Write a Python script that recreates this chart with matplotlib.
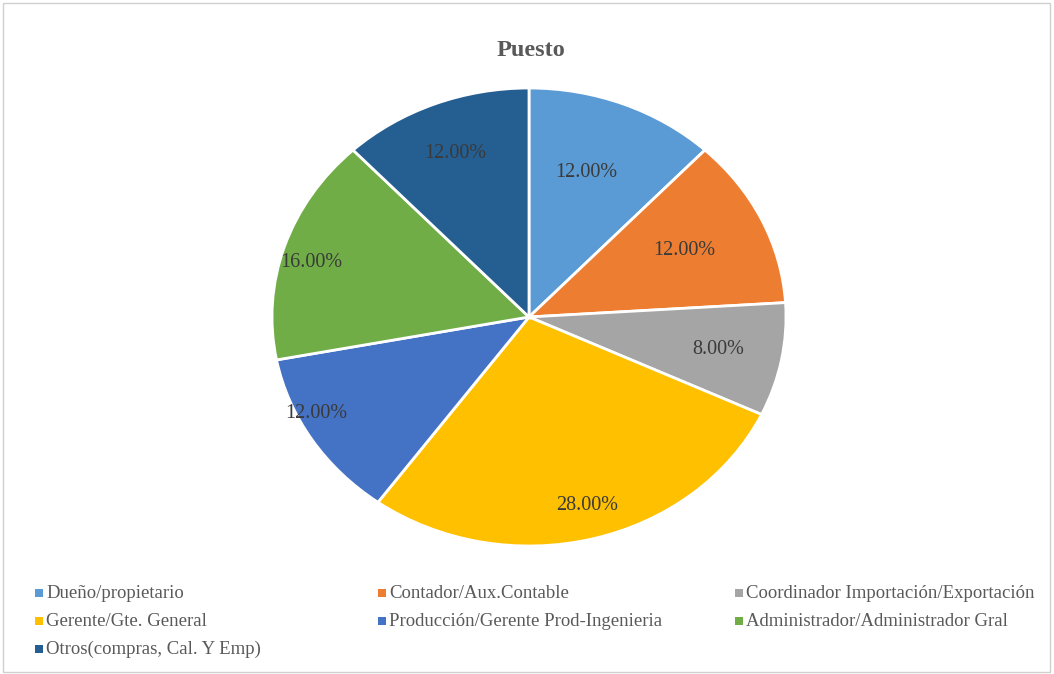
import numpy as np
import matplotlib
matplotlib.use("Agg")
import matplotlib.pyplot as plt
from matplotlib.patches import Rectangle

# Data
categories = [
    "Dueño/propietario",
    "Contador/Aux.Contable",
    "Coordinador Importación/Exportación",
    "Gerente/Gte. General",
    "Producción/Gerente Prod-Ingenieria",
    "Administrador/Administrador Gral",
    "Otros(compras, Cal. Y Emp)",
]
shares = [12.0, 12.0, 8.0, 28.0, 12.0, 16.0, 12.0]
colors = ["#5B9BD5", "#ED7D31", "#A5A5A5", "#FFC000", "#4472C4", "#70AD47", "#255E91"]
title = "Puesto"

# Label placement (radius as fraction of pie radius, angular nudge in degrees)
label_radius = [0.67, 0.67, 0.75, 0.855, 0.93, 0.88, 0.77]
label_nudge = [2.3, 0.6, 0.0, 0.9, -5.5, 2.2, 0.4]

plt.rcParams["font.family"] = ["Liberation Serif", "DejaVu Serif"]

fig = plt.figure(figsize=(10.54, 6.74), dpi=100)
W, H = 1054, 674

# Light frame around the chart area
fig.patches.append(Rectangle((3 / W, 2 / H), 1 - 7 / W, 1 - 5 / H, transform=fig.transFigure,
                             fill=False, edgecolor="#d0d0d0", linewidth=1.0))

ax = fig.add_axes([272 / W, 1 - 546 / H, 514 / W, 458 / H])
wedges, _ = ax.pie(shares, colors=colors, startangle=90, counterclock=False, radius=1.0,
                   wedgeprops=dict(edgecolor="white", linewidth=2.0))
ax.set_aspect("auto")
ax.set_xlim(-1, 1)
ax.set_ylim(-1, 1)
ax.axis("off")

for w, val, r, nud in zip(wedges, shares, label_radius, label_nudge):
    mid = np.deg2rad((w.theta1 + w.theta2) / 2 + nud)
    ax.text(r * np.cos(mid), r * np.sin(mid), f"{val:.2f}%", ha="center", va="center",
            fontsize=14.5, color="#3a3a3a")

fig.text(531 / W, 1 - 50 / H, title, ha="center", va="center", fontsize=17.5,
         fontweight="bold", color="#595959")

# Legend, three columns, row-major
col_x = [35, 378, 735]
row_y = [593, 621, 649]
for i, (lab, c) in enumerate(zip(categories, colors)):
    cx = col_x[i % 3]
    cy = row_y[i // 3]
    fig.patches.append(Rectangle((cx / W, 1 - (cy + 4) / H), 8 / W, 8 / H,
                                 transform=fig.transFigure, facecolor=c, edgecolor="none"))
    fig.text((cx + 11) / W, 1 - cy / H, lab, ha="left", va="center", fontsize=13.5,
             color="#595959")

fig.savefig("out.png", dpi=100, facecolor="white")
